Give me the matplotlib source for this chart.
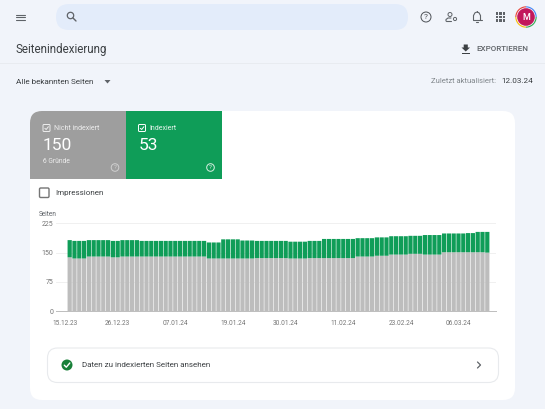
# seitenindexierung.py

import matplotlib
matplotlib.use("Agg")
import matplotlib.pyplot as plt
from matplotlib.patches import Circle, FancyBboxPatch, Polygon, Rectangle, Wedge
from matplotlib.transforms import offset_copy

plt.rcParams['font.family'] = ['Roboto', 'DejaVu Sans']

# ===============================
# 1. Data
# ===============================
nicht_indexiert = [
    138, 135, 135, 135, 140, 140, 140, 140, 140, 138, 138,
    140, 140, 140, 140, 140, 140, 140, 140, 140, 140, 140,
    140, 140, 140, 140, 140, 140, 140, 135, 135, 135, 135,
    135, 135, 135, 135, 135, 135, 136, 136, 136, 136, 136,
    136, 136, 135, 135, 135, 135, 136, 136, 136, 136, 136,
    136, 136, 136, 136, 136, 140, 140, 140, 140, 142, 142,
    142, 145, 145, 145, 145, 147, 147, 147, 145, 145, 145,
    145, 151, 151, 151, 151, 151, 151, 151, 151, 151, 150,
]
indexiert = [
    44, 45, 45, 45, 42, 42, 42, 42, 42, 42, 42,
    42, 42, 42, 42, 40, 40, 40, 40, 40, 40, 40,
    40, 40, 40, 40, 40, 40, 40, 41, 41, 41, 49,
    49, 49, 49, 46, 46, 46, 44, 44, 44, 44, 44,
    44, 44, 43, 43, 43, 43, 44, 44, 44, 49, 49,
    49, 49, 49, 49, 49, 47, 47, 47, 47, 47, 47,
    47, 47, 47, 47, 47, 46, 46, 46, 50, 50, 50,
    50, 48, 48, 48, 48, 48, 49, 49, 52, 52, 53,
]
y_ticks = [0, 75, 150, 225]
x_tick_pos = [0, 11, 23, 35, 46, 58, 70, 82]
x_tick_labels = ["15.12.23", "26.12.23", "07.01.24", "19.01.24",
                 "30.01.24", "11.02.24", "23.02.24", "06.03.24"]

BG = "#f1f4fa"
GRAU = "#bdbdbd"
GRUEN = "#0f9d58"
ICON = "#5f6368"
TEXT = "#3c4043"
W, H = 545, 409

# ===============================
# 2. Page canvas (pixel coordinates)
# ===============================
fig = plt.figure(figsize=(W / 100, H / 100), dpi=100, facecolor=BG)
ui = fig.add_axes([0, 0, 1, 1])
ui.set_xlim(0, W)
ui.set_ylim(H, 0)
ui.axis("off")


def box(x0, y0, x1, y1, r, fc, ec="none", lw=0.0, z=1):
    ui.add_patch(FancyBboxPatch((x0, y0), x1 - x0, y1 - y0,
                                boxstyle=f"round,pad=0,rounding_size={r}",
                                fc=fc, ec=ec, lw=lw, zorder=z))


def rect(x0, y0, x1, y1, fc, z=1):
    ui.add_patch(Rectangle((x0, y0), x1 - x0, y1 - y0, fc=fc, ec="none", zorder=z))


def line(xs, ys, color=ICON, lw=0.9, z=4):
    ui.plot(xs, ys, color=color, lw=lw, zorder=z, solid_capstyle="round")


def label(x, y, s, size, color=TEXT, ha="left", **kw):
    ui.text(x, y, s, fontsize=size, color=color, ha=ha, va="center", zorder=5, **kw)


def ring(x, y, r, color, lw=0.7, fc="none"):
    ui.add_patch(Circle((x, y), r, fc=fc, ec=color, lw=lw, zorder=4))


def help_icon(x, y, r, color, size):
    ring(x, y, r, color)
    label(x, y, "?", size, color=color, ha="center")


def check_box(x0, y0, s, color):
    box(x0, y0, x0 + s, y0 + s, 1, "none", ec=color, lw=0.7, z=4)
    line([x0 + 1.8, x0 + 3.2, x0 + s - 1.6], [y0 + s * 0.55, y0 + s - 2, y0 + 2.2], color, 0.7)


# ===============================
# 3. Top bar
# ===============================
for yy in [14.8, 17, 19.6]:
    line([15.5, 24.5], [yy, yy], lw=0.8)
box(56, 4, 408, 30, 13, "#e3ecfa")
ring(70.5, 15.5, 3.2, ICON, lw=0.9)
line([73, 76], [18, 21], lw=1.0)

help_icon(426, 17, 5, "#4d5156", 6)
ring(450, 14.5, 2, ICON)
line([446, 446, 448, 451], [21, 19.5, 18, 18], lw=0.8)
line([446, 451], [21, 21], lw=0.8)
ring(455, 19, 1.6, ICON)
line([473.5, 473.5, 475, 477, 479, 480.5, 480.5],
     [20, 15.5, 12.8, 12, 12.8, 15.5, 20], lw=0.8)
line([472.5, 481.5], [20.3, 20.3], lw=0.8)
line([476, 478], [22, 22], lw=0.8)
line([477, 477], [11, 12], lw=0.8)
for gx in [497, 500.5, 504]:
    for gy in [13.5, 17, 20.5]:
        rect(gx - 1.1, gy - 1.1, gx + 1.1, gy + 1.1, ICON, z=4)

for t0, t1, c in [(270, 360, "#4285f4"), (180, 270, "#ea4335"),
                  (90, 180, "#fbbc04"), (0, 90, "#34a853")]:
    # y axis is flipped, so 270 is straight up on screen
    ui.add_patch(Wedge((526, 17), 10.7, t0, t1, fc=c, ec="none", zorder=3))
ring(526, 17, 9.6, "none", fc=BG)
ring(526, 17, 8.8, "none", fc="#c2185b")
label(526, 17, "M", 6.5, color="white", ha="center", fontweight="medium")

# ===============================
# 4. Title row
# ===============================
label(16, 49, "Seitenindexierung", 8.3, color="#3c4043")
rect(0, 63, W, 64, "#e8ebf0")

rect(461.5, 52.5, 470, 53.5, "#3c4043", z=4)
ui.add_patch(Polygon([(463.7, 44.5), (467.8, 44.5), (467.8, 47.5), (470, 47.5),
                      (465.75, 51.5), (461.5, 47.5), (463.7, 47.5)],
                     fc="#3c4043", ec="none", zorder=4))
label(476, 49, "EXPORTIEREN", 5.8, color="#5f6368", fontweight="medium")

label(16, 82, "Alle bekannten Seiten", 5.9, color="#3c4043")
ui.add_patch(Polygon([(104.5, 80), (110.5, 80), (107.5, 83.5)], fc=ICON, ec="none", zorder=4))
label(431, 81, "Zuletzt aktualisiert:", 5.5, color="#80868b")
label(501, 81, "12.03.24", 5.9, color="#3c4043")

# ===============================
# 5. White card and the two tiles
# ===============================
box(30, 111, 515, 400, 12, "white")

box(30, 111, 126, 179, 12, "#9e9e9e", z=2)
rect(30, 125, 126, 179, "#9e9e9e", z=2)
rect(44, 111, 126, 125, "#9e9e9e", z=2)
rect(126, 111, 221.5, 179, GRUEN, z=2)

check_box(43, 124.5, 7, "#eeeeee")
label(54, 128, "Nicht indexiert", 5.0, color="#eeeeee")
label(43, 146, "150", 12.5, color="white")
label(43, 161.5, "6 Gründe", 4.8, color="#eeeeee")
help_icon(115, 167.5, 3.8, "#d0d0d0", 4.5)

check_box(138.5, 124.5, 7, "white")
label(149.5, 128, "Indexiert", 5.0, color="#e8f5ee")
label(139, 146, "53", 12.5, color="white")
help_icon(210.5, 167.5, 3.8, "#d8f0e2", 4.5)

box(39.5, 188, 49, 197.5, 1.2, "white", ec="#757575", lw=1.0, z=3)
label(55, 193, "Impressionen", 5.8, color="#3c4043")

# ===============================
# 6. Bar chart
# ===============================
ax_left, ax_right, ax_top, ax_bottom = 56, 495.7, 223.3, 311.3
ax = fig.add_axes([ax_left / W, 1 - ax_bottom / H,
                   (ax_right - ax_left) / W, (ax_bottom - ax_top) / H])
ax.patch.set_alpha(0)
days = list(range(len(nicht_indexiert)))
gray_bars = ax.bar(days, nicht_indexiert, width=0.88, color=GRAU, zorder=3)
green_bars = ax.bar(days, indexiert, width=0.88, bottom=nicht_indexiert, color=GRUEN, zorder=3)
# no pixel snapping, otherwise the gaps between the bars come out uneven
for bar in list(gray_bars) + list(green_bars):
    bar.set_snap(False)
ax.set_xlim(-2.85, 88.75)
ax.set_ylim(0, 225)
ax.set_yticks(y_ticks)
ax.set_xticks(x_tick_pos)
ax.set_xticklabels(x_tick_labels)
ax.grid(axis="y", color="#eeeeee", lw=0.6, zorder=0)
ax.tick_params(axis="y", length=0, pad=2, labelsize=5.0, labelcolor="#757575")
ax.tick_params(axis="x", length=0, pad=6.5, labelsize=4.7, labelcolor="#757575")
for spine in ["top", "left", "right"]:
    ax.spines[spine].set_visible(False)
ax.spines["bottom"].set_color("#bdbdbd")
ax.spines["bottom"].set_linewidth(0.7)
for tick_text in ax.get_xticklabels():
    tick_text.set_transform(offset_copy(tick_text.get_transform(), fig=fig, x=-3.4, y=0, units="points"))
label(39, 214.3, "Seiten", 4.7, color="#5f6368")

# ===============================
# 7. Link row at the bottom
# ===============================
box(47.5, 348, 498.5, 382.5, 10, "white", ec="#e8eaed", lw=0.8, z=2)
ring(67, 365, 5.5, "none", fc="#188038")
line([64.3, 66.3, 69.8], [365.2, 367.2, 363], "white", 1.0)
label(82, 365, "Daten zu indexierten Seiten ansehen", 5.8, color="#3c4043")
line([477.5, 480.5, 477.5], [362, 365, 368], lw=0.9)

# ===============================
# 8. Save
# ===============================
fig.savefig("out.png", dpi=100, facecolor=BG)
